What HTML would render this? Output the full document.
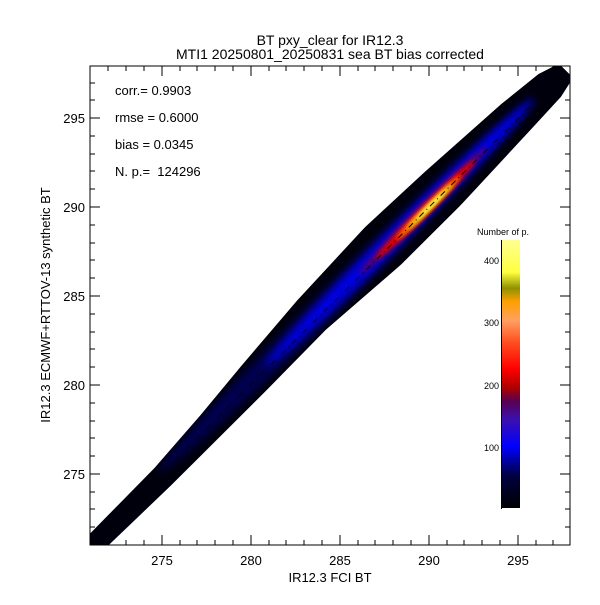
<!DOCTYPE html>
<html><head><style>
body{margin:0;background:#fff;}
svg text{font-family:"Liberation Sans",sans-serif;fill:#000;}
</style></head><body>
<svg width="600" height="600" xmlns="http://www.w3.org/2000/svg">
<defs>
<clipPath id="c"><rect x="90" y="66" width="480" height="479"/></clipPath>
<clipPath id="bandclip"><polygon points="-30,-8 0,-8 100,-9 170,-14 233,-20 319,-27 419,-31 500,-28 603,-22 650,-17 672,-10 672,10 650,15 603,17 500,21 419,21 319,14 233,15 100,15 0,13 -30,13"/></clipPath>
<filter id="b1" x="-50%" y="-50%" width="200%" height="200%"><feGaussianBlur stdDeviation="4"/></filter>
<filter id="b2" x="-50%" y="-50%" width="200%" height="200%"><feGaussianBlur stdDeviation="2"/></filter>
<linearGradient id="cb" x1="0" y1="1" x2="0" y2="0">
<stop offset="0" stop-color="#000000"/>
<stop offset="0.12" stop-color="#000040"/>
<stop offset="0.23" stop-color="#0000ff"/>
<stop offset="0.33" stop-color="#3a10b0"/>
<stop offset="0.40" stop-color="#5a0050"/>
<stop offset="0.45" stop-color="#b00000"/>
<stop offset="0.52" stop-color="#ff0000"/>
<stop offset="0.62" stop-color="#ff5020"/>
<stop offset="0.70" stop-color="#ffa060"/>
<stop offset="0.77" stop-color="#ffa000"/>
<stop offset="0.82" stop-color="#909000"/>
<stop offset="0.88" stop-color="#ffff40"/>
<stop offset="1" stop-color="#ffff90"/>
</linearGradient>
</defs>
<text x="330" y="45" font-size="14" text-anchor="middle">BT pxy_clear for IR12.3</text>
<text x="330" y="59" font-size="14" text-anchor="middle">MTI1 20250801_20250831 sea BT bias corrected</text>

<g clip-path="url(#c)">
<g transform="translate(90,545) rotate(-44.9)">
<g clip-path="url(#bandclip)">
<rect x="-40" y="-40" width="730" height="80" fill="#00000c"/>
<ellipse cx="360" cy="-3" rx="260" ry="12" fill="#000050" filter="url(#b1)"/>
<ellipse cx="440" cy="-3" rx="190" ry="9" fill="#0000e0" filter="url(#b1)"/>
<ellipse cx="472" cy="-2" rx="90" ry="6" fill="#500070" filter="url(#b2)"/>
<ellipse cx="475" cy="-1" rx="70" ry="5" fill="#e00000" filter="url(#b2)"/>
<ellipse cx="478" cy="0" rx="45" ry="3.5" fill="#ff8000" filter="url(#b2)"/>
<ellipse cx="480" cy="0" rx="32" ry="2.5" fill="#e8e020" filter="url(#b2)"/>
<ellipse cx="482" cy="0" rx="20" ry="1.5" fill="#ffff60" filter="url(#b2)"/>
<line x1="0" y1="0" x2="700" y2="0" stroke="#000" stroke-width="1" stroke-dasharray="6,4,1,4"/>
</g>
</g>
</g>

<rect x="90" y="66" width="480" height="479" fill="none" stroke="#000" stroke-width="1"/>
<g stroke="#000" stroke-width="1">
<path d="M108,545v-5M126,545v-5M144,545v-5M162,545v-10M180,545v-5M197,545v-5M215,545v-5M233,545v-5M251,545v-10M269,545v-5M286,545v-5M304,545v-5M322,545v-5M340,545v-10M358,545v-5M375,545v-5M393,545v-5M411,545v-5M429,545v-10M447,545v-5M464,545v-5M482,545v-5M500,545v-5M518,545v-10M536,545v-5M553,545v-5"/>
<path d="M108,66v5M126,66v5M144,66v5M162,66v10M180,66v5M197,66v5M215,66v5M233,66v5M251,66v10M269,66v5M286,66v5M304,66v5M322,66v5M340,66v10M358,66v5M375,66v5M393,66v5M411,66v5M429,66v10M447,66v5M464,66v5M482,66v5M500,66v5M518,66v10M536,66v5M553,66v5"/>
<path d="M90,527h5M90,509h5M90,492h5M90,474h10M90,456h5M90,438h5M90,421h5M90,403h5M90,385h10M90,367h5M90,349h5M90,332h5M90,314h5M90,296h10M90,278h5M90,260h5M90,243h5M90,225h5M90,207h10M90,189h5M90,171h5M90,154h5M90,136h5M90,118h10M90,100h5M90,83h5"/>
<path d="M570,527h-5M570,509h-5M570,492h-5M570,474h-10M570,456h-5M570,438h-5M570,421h-5M570,403h-5M570,385h-10M570,367h-5M570,349h-5M570,332h-5M570,314h-5M570,296h-10M570,278h-5M570,260h-5M570,243h-5M570,225h-5M570,207h-10M570,189h-5M570,171h-5M570,154h-5M570,136h-5M570,118h-10M570,100h-5M570,83h-5"/>
</g>
<g font-size="13" text-anchor="middle">
<text x="162" y="565">275</text><text x="251" y="565">280</text><text x="340" y="565">285</text><text x="429" y="565">290</text><text x="518" y="565">295</text>
</g>
<g font-size="13" text-anchor="end">
<text x="85" y="479">275</text><text x="85" y="390">280</text><text x="85" y="301">285</text><text x="85" y="212">290</text><text x="85" y="123">295</text>
</g>
<text x="330" y="582" font-size="13" text-anchor="middle">IR12.3 FCI BT</text>
<text transform="translate(50,305) rotate(-90)" font-size="13" text-anchor="middle">IR12.3 ECMWF+RTTOV-13 synthetic BT</text>

<g font-size="13">
<text x="115" y="95">corr.= 0.9903</text>
<text x="115" y="122">rmse = 0.6000</text>
<text x="115" y="149">bias = 0.0345</text>
<text x="115" y="176">N. p.=&#160;&#160;124296</text>
</g>

<rect x="502" y="240" width="18" height="268" fill="url(#cb)"/>
<line x1="501.5" y1="240" x2="501.5" y2="509" stroke="#000"/>
<text x="503" y="235" font-size="9" text-anchor="middle">Number of p.</text>
<g font-size="9" text-anchor="end">
<text x="499" y="264">400</text><text x="499" y="326">300</text><text x="499" y="389">200</text><text x="499" y="451">100</text>
</g>
</svg>
</body></html>
